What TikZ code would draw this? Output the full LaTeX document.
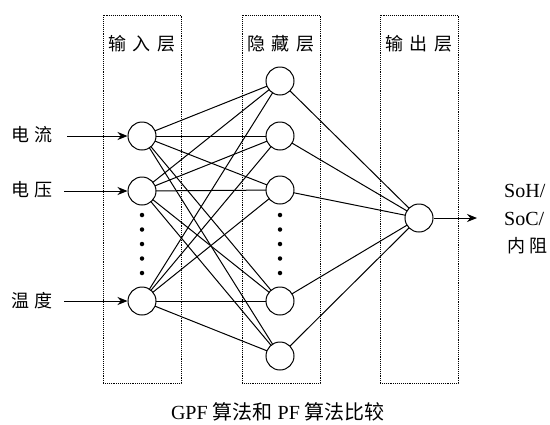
\documentclass[tikz,border=0pt]{standalone}
\usepackage{fontspec}
\setmainfont{Liberation Serif}
\newfontfamily\cjk{Noto Sans CJK SC}
\usetikzlibrary{arrows.meta}
\newcommand{\gapA}{\hspace{7pt}}
\newcommand{\gapB}{\hspace{5pt}}
\newcommand{\gapC}{\hspace{4pt}}
\begin{document}
\begin{tikzpicture}[x=1pt,y=-1pt,
  neuron/.style={circle,draw,line width=1pt,fill=white,minimum size=28pt,inner sep=0pt},
  layerbox/.style={draw,densely dotted,line width=0.9pt,minimum width=78pt,minimum height=368pt,inner sep=0pt},
  conn/.style={line width=1pt},
  arr/.style={line width=1pt,-{Stealth[length=10pt,width=8pt]}},
  lab/.style={font=\fontsize{18}{21}\selectfont\cjk,inner sep=0pt},
  lat/.style={font=\fontsize{20}{24}\selectfont,inner sep=0pt},
  dot/.style={circle,fill=black,inner sep=0pt,minimum size=4.5pt}
]
\useasboundingbox (0,0) rectangle (550,424);

% layer boxes
\node[layerbox] (B1) at (142,199) {};
\node[layerbox] (B2) at (281,199) {};
\node[layerbox] (B3) at (419,199) {};
\node[lab] (T1) at (142,44) {输\gapA 入\gapA 层};
\node[lab] (T2) at (281,44) {隐\gapA 藏\gapA 层};
\node[lab] (T3) at (419,44) {输\gapA 出\gapA 层};

% connections input -> hidden
\coordinate (i1p) at (142,136);
\coordinate (i2p) at (142,191);
\coordinate (i3p) at (142,301);
\coordinate (h1p) at (280,81);
\coordinate (h2p) at (280,136);
\coordinate (h3p) at (280,190);
\coordinate (h4p) at (280,301);
\coordinate (h5p) at (280,356);
\coordinate (op) at (419,218);
\foreach \i in {1,2,3}{
  \foreach \h in {1,2,3,4,5}{
    \draw[conn] (i\i p) -- (h\h p);
  }
}
\foreach \h in {1,2,3,4,5}{
  \draw[conn] (h\h p) -- (op);
}

% neurons
\node[neuron] (i1) at (i1p) {};
\node[neuron] (i2) at (i2p) {};
\node[neuron] (i3) at (i3p) {};
\node[neuron] (h1) at (h1p) {};
\node[neuron] (h2) at (h2p) {};
\node[neuron] (h3) at (h3p) {};
\node[neuron] (h4) at (h4p) {};
\node[neuron] (h5) at (h5p) {};
\node[neuron] (o) at (op) {};

% dots
\foreach \k [count=\n] in {215,229.5,244,258.5,273}{
  \node[dot] (di\n) at (142,\k) {};
  \node[dot] (dh\n) at (280,\k) {};
}

% inputs
\node[lab] (L1) at (32,135) {电\gapB 流};
\node[lab] (L2) at (32,190) {电\gapB 压};
\node[lab] (L3) at (32,301) {温\gapB 度};
\coordinate (s1) at (67,136);
\coordinate (s2) at (64,191);
\coordinate (s3) at (64,301);
\draw[arr] (s1) -- (i1);
\draw[arr] (s2) -- (i2);
\draw[arr] (s3) -- (i3);

% output
\coordinate (e) at (477,218);
\draw[arr] (o) -- (e);
\node[lat,anchor=west] (R1) at (504,191) {SoH/};
\node[lat,anchor=west] (R2) at (504,219) {SoC/};
\node[lab,anchor=west] (R3) at (507,246) {内\gapC 阻};

% caption
\node[inner sep=0pt,font=\fontsize{20}{24}\selectfont] (cap) at (278,412)
  {GPF {\cjk 算法和} PF {\cjk 算法比较}};
\end{tikzpicture}
\end{document}
